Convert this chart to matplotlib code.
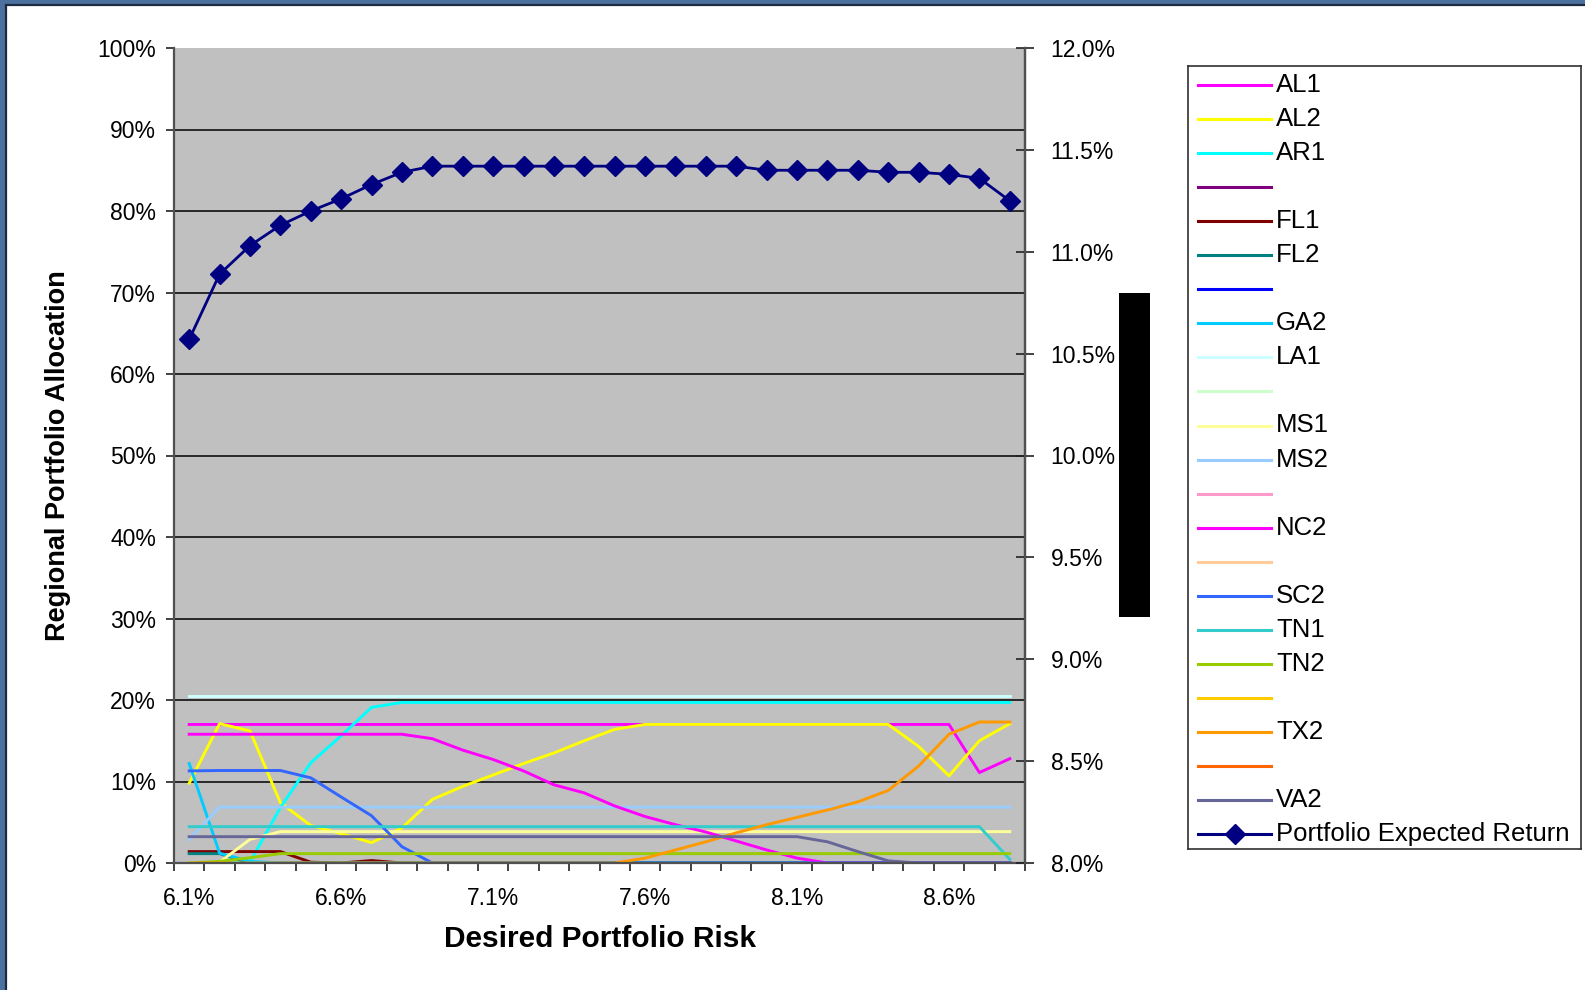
import matplotlib
matplotlib.use('Agg')
import matplotlib.pyplot as plt
from matplotlib.patches import Rectangle
from matplotlib.lines import Line2D

plt.rcParams['font.family'] = ['Liberation Sans', 'DejaVu Sans']

# ---------------- data ----------------
risk_labels = ['6.1%', '6.2%', '6.3%', '6.4%', '6.5%', '6.6%', '6.7%', '6.8%', '6.9%', '7.0%',
               '7.1%', '7.2%', '7.3%', '7.4%', '7.5%', '7.6%', '7.7%', '7.8%', '7.9%', '8.0%',
               '8.1%', '8.2%', '8.3%', '8.4%', '8.5%', '8.6%', '8.7%', '8.8%']

AL1 = [17.0, 17.0, 17.0, 17.0, 17.0, 17.0, 17.0, 17.0, 17.0, 17.0, 17.0, 17.0, 17.0, 17.0,
       17.0, 17.0, 17.0, 17.0, 17.0, 17.0, 17.0, 17.0, 17.0, 17.0, 17.0, 17.0, 11.1, 12.8]
AL2 = [9.8, 17.1, 16.2, 7.4, 4.6, 3.6, 2.5, 4.3, 7.8, 9.4, 10.8, 12.2, 13.5, 15.0,
       16.4, 17.0, 17.0, 17.0, 17.0, 17.0, 17.0, 17.0, 17.0, 17.0, 14.3, 10.7, 15.0, 17.1]
AR1 = [0.0, 0.0, 0.1, 6.8, 12.3, 15.6, 19.1, 19.7, 19.7, 19.7, 19.7, 19.7, 19.7, 19.7,
       19.7, 19.7, 19.7, 19.7, 19.7, 19.7, 19.7, 19.7, 19.7, 19.7, 19.7, 19.7, 19.7, 19.7]
UNL4 = [0.0] * 28
FL1 = [1.4, 1.4, 1.4, 1.4, 0.1, 0.0, 0.3, 0.0, 0.0, 0.0, 0.0, 0.0, 0.0, 0.0,
       0.0, 0.0, 0.0, 0.0, 0.0, 0.0, 0.0, 0.0, 0.0, 0.0, 0.0, 0.0, 0.0, 0.0]
FL2 = [1.15, 1.15, 0.0, 0.0, 0.0, 0.0, 0.0, 0.0, 0.0, 0.0, 0.0, 0.0, 0.0, 0.0,
       0.0, 0.0, 0.0, 0.0, 0.0, 0.0, 0.0, 0.0, 0.0, 0.0, 0.0, 0.0, 0.0, 0.0]
UNL7 = [0.0] * 28
GA2 = [12.2, 1.2, 0.2, 0.0, 0.0, 0.0, 0.0, 0.0, 0.0, 0.0, 0.0, 0.0, 0.0, 0.0,
       0.0, 0.0, 0.0, 0.0, 0.0, 0.0, 0.0, 0.0, 0.0, 0.0, 0.0, 0.0, 0.0, 0.0]
LA1 = [20.5, 20.5, 20.5, 20.5, 20.5, 20.5, 20.5, 20.5, 20.5, 20.5, 20.5, 20.5, 20.5, 20.5,
       20.5, 20.5, 20.5, 20.5, 20.5, 20.5, 20.5, 20.5, 20.5, 20.5, 20.5, 20.5, 20.5, 20.5]
UNL10 = [0.0] * 28
MS1 = [0.0, 0.1, 2.9, 3.85, 3.85, 3.85, 3.85, 3.85, 3.85, 3.85, 3.85, 3.85, 3.85, 3.85,
       3.85, 3.85, 3.85, 3.85, 3.85, 3.85, 3.85, 3.85, 3.85, 3.85, 3.85, 3.85, 3.85, 3.85]
MS2 = [2.9, 6.85, 6.85, 6.85, 6.85, 6.85, 6.85, 6.85, 6.85, 6.85, 6.85, 6.85, 6.85, 6.85,
       6.85, 6.85, 6.85, 6.85, 6.85, 6.85, 6.85, 6.85, 6.85, 6.85, 6.85, 6.85, 6.85, 6.85]
UNL13 = [0.0] * 28
NC2 = [15.8, 15.8, 15.8, 15.8, 15.8, 15.8, 15.8, 15.8, 15.25, 13.85, 12.7, 11.3, 9.6, 8.6,
       7.0, 5.7, 4.7, 3.8, 2.7, 1.6, 0.6, 0.0, 0.0, 0.0, 0.0, 0.0, 0.0, 0.0]
UNL15 = [0.0] * 28
SC2 = [11.3, 11.35, 11.35, 11.35, 10.45, 8.1, 5.8, 2.0, 0.0, 0.0, 0.0, 0.0, 0.0, 0.0,
       0.0, 0.0, 0.0, 0.0, 0.0, 0.0, 0.0, 0.0, 0.0, 0.0, 0.0, 0.0, 0.0, 0.0]
TN1 = [4.46, 4.46, 4.46, 4.46, 4.46, 4.46, 4.46, 4.46, 4.46, 4.46, 4.46, 4.46, 4.46, 4.46,
       4.46, 4.46, 4.46, 4.46, 4.46, 4.46, 4.46, 4.46, 4.46, 4.46, 4.46, 4.46, 4.46, 0.45]
TN2 = [0.0, 0.2, 0.65, 1.15, 1.15, 1.15, 1.15, 1.15, 1.15, 1.15, 1.15, 1.15, 1.15, 1.15,
       1.15, 1.15, 1.15, 1.15, 1.15, 1.15, 1.15, 1.15, 1.15, 1.15, 1.15, 1.15, 1.15, 1.15]
UNL19 = [0.0] * 28
TX2 = [0.0, 0.0, 0.0, 0.0, 0.0, 0.0, 0.0, 0.0, 0.0, 0.0, 0.0, 0.0, 0.0, 0.0,
       0.0, 0.6, 1.6, 2.6, 3.7, 4.7, 5.6, 6.5, 7.5, 8.9, 11.9, 15.8, 17.3, 17.3]
UNL21 = [0.0] * 28
VA2 = [3.23, 3.23, 3.23, 3.23, 3.23, 3.23, 3.23, 3.23, 3.23, 3.23, 3.23, 3.23, 3.23, 3.23,
       3.23, 3.23, 3.23, 3.23, 3.23, 3.23, 3.23, 2.6, 1.4, 0.26, 0.0, 0.0, 0.0, 0.0]

expected_return = [10.57, 10.89, 11.03, 11.13, 11.20, 11.26, 11.33, 11.39, 11.42, 11.42,
                   11.42, 11.42, 11.42, 11.42, 11.42, 11.42, 11.42, 11.42, 11.42, 11.40,
                   11.40, 11.40, 11.40, 11.39, 11.39, 11.38, 11.36, 11.25]

series_names = ['AL1', 'AL2', 'AR1', '', 'FL1', 'FL2', '', 'GA2', 'LA1', '', 'MS1', 'MS2', '',
                'NC2', '', 'SC2', 'TN1', 'TN2', '', 'TX2', '', 'VA2']
series_values = [AL1, AL2, AR1, UNL4, FL1, FL2, UNL7, GA2, LA1, UNL10, MS1, MS2, UNL13,
                 NC2, UNL15, SC2, TN1, TN2, UNL19, TX2, UNL21, VA2]
series_colors = ['#FF00FF', '#FFFF00', '#00FFFF', '#800080', '#800000', '#008080', '#0000FF',
                 '#00CCFF', '#CCFFFF', '#CCFFCC', '#FFFF99', '#99CCFF', '#FF99CC', '#FF00FF',
                 '#FFCC99', '#3366FF', '#33CCCC', '#99CC00', '#FFCC00', '#FF9900', '#FF6600',
                 '#666699']
return_name = 'Portfolio Expected Return'
return_color = '#000080'

left_ticks = [0, 10, 20, 30, 40, 50, 60, 70, 80, 90, 100]
right_ticks = [8.0, 8.5, 9.0, 9.5, 10.0, 10.5, 11.0, 11.5, 12.0]

# ---------------- figure ----------------
W, H = 1585, 990
fig = plt.figure(figsize=(W / 100, H / 100), dpi=100)
fig.patch.set_facecolor('#4D719E')
fig.patches.append(Rectangle((7 / W, 0), 1, 1 - 6 / H, transform=fig.transFigure,
                             facecolor='white', edgecolor='none', zorder=-10))
fig.lines.append(Line2D([6 / W, 6 / W], [0, 1 - 5 / H], transform=fig.transFigure,
                       color='#1C2B40', lw=1.6, zorder=-5))
fig.lines.append(Line2D([6 / W, 1], [1 - 5 / H, 1 - 5 / H], transform=fig.transFigure,
                       color='#1C2B40', lw=1.6, zorder=-5))


def px_axes(x0, y0, x1, y1, **kw):
    return fig.add_axes([x0 / W, 1 - y1 / H, (x1 - x0) / W, (y1 - y0) / H], **kw)


ax = px_axes(174, 48, 1025, 863)
ax.set_facecolor('#C0C0C0')
n = len(risk_labels)
xs = list(range(n))
ax.set_xlim(-0.5, n - 0.5)
ax.set_ylim(0, 100)

for g in left_ticks[1:-1]:
    ax.axhline(g, color='black', lw=1.1, zorder=1)

for vals, col in zip(series_values, series_colors):
    ax.plot(xs, vals, color=col, lw=2.1, zorder=2, solid_joinstyle='round')

ax.set_yticks(left_ticks)
ax.set_yticklabels([f'{v}%' for v in left_ticks])
ax.set_xticks([i - 0.5 for i in range(n + 1)])
ax.set_xticklabels([])
ax.set_xticks(xs[::5], minor=True)
ax.set_xticklabels([risk_labels[i] for i in xs[::5]], minor=True)
ax.tick_params(axis='x', which='major', direction='out', length=5.5, width=1.2, color='#222222')
ax.tick_params(axis='x', which='minor', length=0, pad=17, labelsize=16.5)
ax.tick_params(axis='y', direction='out', length=6, width=1.2, color='#222222',
               labelsize=16.5, pad=7)
for s in ['left', 'bottom', 'right']:
    ax.spines[s].set_color('#505050')
    ax.spines[s].set_linewidth(1.6)
ax.spines['top'].set_visible(False)

ax2 = ax.twinx()
ax2.set_ylim(8, 12)
ax2.plot(xs, expected_return, color=return_color, lw=2, marker='D', ms=10,
         markerfacecolor=return_color, markeredgecolor=return_color, zorder=5)
ax2.set_yticks(right_ticks)
ax2.set_yticklabels([f'{v:.1f}%' for v in right_ticks])
ax2.tick_params(axis='y', direction='inout', length=13, width=1.2, color='#222222',
                labelsize=16.5, pad=12)
for s in ['top', 'left', 'bottom']:
    ax2.spines[s].set_visible(False)
ax2.spines['right'].set_color('#505050')
ax2.spines['right'].set_linewidth(1.6)

fig.text(600 / W, 1 - 939 / H, 'Desired Portfolio Risk', ha='center', va='center',
         fontsize=21.5, fontweight='bold')
fig.text(58 / W, 1 - 456 / H, 'Regional Portfolio Allocation', ha='center', va='center',
         rotation=90, fontsize=19.5, fontweight='bold')

# black bar
fig.patches.append(Rectangle((1119 / W, 1 - 617 / H), 31 / W, 324 / H,
                             transform=fig.transFigure, facecolor='black',
                             edgecolor='none', zorder=3))

# ---------------- legend (manual) ----------------
lx0, ly0, lx1, ly1 = 1188, 66, 1581, 849
lax = px_axes(lx0, ly0, lx1, ly1)
lax.set_xlim(lx0, lx1)
lax.set_ylim(ly1, ly0)
lax.set_xticks([])
lax.set_yticks([])
for s in lax.spines.values():
    s.set_color('#303030')
    s.set_linewidth(1.2)
labels = series_names + [return_name]
colors = series_colors + [return_color]
row0, step = 85, 34.05
for k, (lab, col) in enumerate(zip(labels, colors)):
    yy = row0 + k * step
    lax.plot([1198, 1271], [yy, yy], color=col, lw=2.2)
    if k == len(labels) - 1:
        lax.plot([1234.5], [yy], marker='D', ms=10, color=col)
    if lab:
        lax.text(1276, yy, lab, ha='left', va='center', fontsize=18.5)

fig.savefig('out.png', dpi=100)
